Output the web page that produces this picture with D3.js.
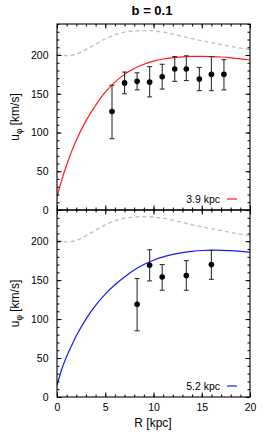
<!DOCTYPE html>
<html><head><meta charset="utf-8">
<script src="https://cdn.jsdelivr.net/npm/d3@7/dist/d3.min.js"></script>
<style>body{margin:0;background:#fff}svg{display:block}</style>
</head><body>
<script>
// ---- data ----
const title = "b = 0.1";
const xTicks = [0, 5, 10, 15, 20];
const yTicks = [0, 50, 100, 150, 200];

// observed points panel 1: R, v, lower, upper
const obsR1 = [5.7, 7.0, 8.3, 9.6, 10.9, 12.2, 13.4, 14.75, 16.0, 17.3];
const obsV1 = [127, 164, 166, 165, 172, 182, 182, 169, 175, 175];
const obsLo1 = [92, 150, 155, 146, 156, 166, 167, 154, 154, 155];
const obsHi1 = [161, 178, 177, 185, 188, 198, 199, 184, 198, 194];

// observed points panel 2
const obsR2 = [8.3, 9.6, 10.9, 13.4, 16.0];
const obsV2 = [119, 169, 154, 156, 170];
const obsLo2 = [85, 149, 137, 137, 151];
const obsHi2 = [152, 189, 170, 175, 188];

// model curves
const curveR = [0, 0.5, 1, 1.5, 2, 3, 4, 5, 6, 7, 8, 9, 10, 11, 12, 13, 14, 15, 16, 17, 18, 19, 20];
const redV  = [17, 39, 58, 75, 90, 115, 135, 152, 165, 175, 182.5, 188, 192, 194.8, 196.6, 197.7, 198.2, 198.3, 198, 197.4, 196.4, 195.1, 193.5];
const blueV = [15, 36, 52, 65.5, 78.5, 100, 117.5, 132, 144, 154, 163, 170, 175.5, 179.8, 183, 185.3, 187, 188, 188.4, 188.3, 187.8, 187, 186];
const grayV = [202, 200, 199, 199.5, 201, 207, 214, 221, 226, 229.5, 231, 231.5, 231, 229.5, 227, 224, 221, 218.5, 216, 213.5, 211, 209, 207];

const panels = [
  {top: 24, bottom: 210, curve: redV, color: "#ff1a1a", label: "3.9 kpc", R: obsR1, V: obsV1, Lo: obsLo1, Hi: obsHi1, xLabels: false},
  {top: 210, bottom: 397, curve: blueV, color: "#1a1aff", label: "5.2 kpc", R: obsR2, V: obsV2, Lo: obsLo2, Hi: obsHi2, xLabels: true}
];

const W = 269, H = 432;
const left = 57, right = 250;
const svg = d3.select("body").append("svg").attr("width", W).attr("height", H)
  .style("font-family", "'Liberation Sans', Arial, sans-serif");

const x = d3.scaleLinear().domain([0, 20]).range([left, right]);

svg.append("text").attr("x", 152).attr("y", 15).attr("text-anchor", "middle")
  .attr("font-size", 13).attr("font-weight", "bold").text(title);

panels.forEach(p => {
  const y = d3.scaleLinear().domain([0, 240]).range([p.bottom, p.top]);
  const g = svg.append("g");
  const clipId = "clip" + p.top;
  svg.append("clipPath").attr("id", clipId).append("rect")
    .attr("x", left).attr("y", p.top).attr("width", right - left).attr("height", p.bottom - p.top);

  const line = d3.line().x((d, i) => x(curveR[i])).y(d => y(d)).curve(d3.curveMonotoneX);
  g.append("path").attr("d", line(grayV)).attr("fill", "none").attr("stroke", "#bdbdbd")
    .attr("stroke-width", 1.3).attr("stroke-dasharray", "4,3").attr("clip-path", `url(#${clipId})`);
  g.append("path").attr("d", line(p.curve)).attr("fill", "none").attr("stroke", p.color)
    .attr("stroke-width", 1.2).attr("clip-path", `url(#${clipId})`);

  // error bars
  p.R.forEach((r, i) => {
    const cx = x(r);
    g.append("line").attr("x1", cx).attr("x2", cx).attr("y1", y(p.Lo[i])).attr("y2", y(p.Hi[i]))
      .attr("stroke", "#333").attr("stroke-width", 1.1);
    [p.Lo[i], p.Hi[i]].forEach(v => {
      g.append("line").attr("x1", cx - 2.5).attr("x2", cx + 2.5).attr("y1", y(v)).attr("y2", y(v))
        .attr("stroke", "#333").attr("stroke-width", 1.1);
    });
    g.append("circle").attr("cx", cx).attr("cy", y(p.V[i])).attr("r", 2.8).attr("fill", "#000");
  });

  // axes (ticks inward on all sides)
  const xMinor = d3.range(0, 21, 1), yMinor = d3.range(0, 241, 10);
  const addAxis = (axis, tr) => {
    const a = svg.append("g").attr("transform", tr).call(axis);
    a.select(".domain").remove();
    a.selectAll("line").attr("stroke", "#000").attr("stroke-width", 1);
    return a;
  };
  addAxis(d3.axisTop(x).tickValues(xMinor).tickSize(2.5).tickFormat(""), `translate(0,${p.bottom})`);
  addAxis(d3.axisTop(x).tickValues(xTicks).tickSize(4.5).tickFormat(""), `translate(0,${p.bottom})`);
  addAxis(d3.axisBottom(x).tickValues(xMinor).tickSize(2.5).tickFormat(""), `translate(0,${p.top})`);
  addAxis(d3.axisBottom(x).tickValues(xTicks).tickSize(4.5).tickFormat(""), `translate(0,${p.top})`);
  addAxis(d3.axisRight(y).tickValues(yMinor).tickSize(2.5).tickFormat(""), `translate(${left},0)`);
  addAxis(d3.axisRight(y).tickValues(yTicks).tickSize(4.5).tickFormat(""), `translate(${left},0)`);
  addAxis(d3.axisLeft(y).tickValues(yMinor).tickSize(2.5).tickFormat(""), `translate(${right},0)`);
  addAxis(d3.axisLeft(y).tickValues(yTicks).tickSize(4.5).tickFormat(""), `translate(${right},0)`);

  // y tick labels
  const yl = svg.append("g").attr("transform", `translate(${left},0)`)
    .call(d3.axisLeft(y).tickValues(yTicks).tickSize(0).tickPadding(8.5));
  yl.select(".domain").remove();
  yl.selectAll("text").attr("font-size", 10.5).attr("fill", "#000")
    .style("font-family", "'Liberation Sans', Arial, sans-serif");

  if (p.xLabels) {
    const xl = svg.append("g").attr("transform", `translate(0,${p.bottom})`)
      .call(d3.axisBottom(x).tickValues(xTicks).tickSize(0).tickPadding(7));
    xl.select(".domain").remove();
    xl.selectAll("text").attr("font-size", 10.5).attr("fill", "#000")
      .style("font-family", "'Liberation Sans', Arial, sans-serif");
  }

  // frame
  svg.append("rect").attr("x", left).attr("y", p.top).attr("width", right - left)
    .attr("height", p.bottom - p.top).attr("fill", "none").attr("stroke", "#000").attr("stroke-width", 1.1);

  // y label
  const cy = (p.top + p.bottom) / 2;
  const t = svg.append("text").attr("transform", `translate(19,${cy}) rotate(-90)`)
    .attr("text-anchor", "middle").attr("font-size", 12);
  t.append("tspan").text("u");
  t.append("tspan").attr("font-size", 8.5).attr("dy", 3).text("φ");
  t.append("tspan").attr("dy", -3).text(" [km/s]");

  // legend
  const ly = p.bottom - 11;
  svg.append("text").attr("x", 220).attr("y", ly).attr("dy", "0.35em").attr("text-anchor", "end")
    .attr("font-size", 10.5).text(p.label);
  svg.append("line").attr("x1", 227).attr("x2", 237).attr("y1", ly).attr("y2", ly)
    .attr("stroke", p.color).attr("stroke-width", 1.2);
});

svg.append("text").attr("x", 153).attr("y", 427).attr("text-anchor", "middle")
  .attr("font-size", 12).text("R [kpc]");
</script>
</body></html>
